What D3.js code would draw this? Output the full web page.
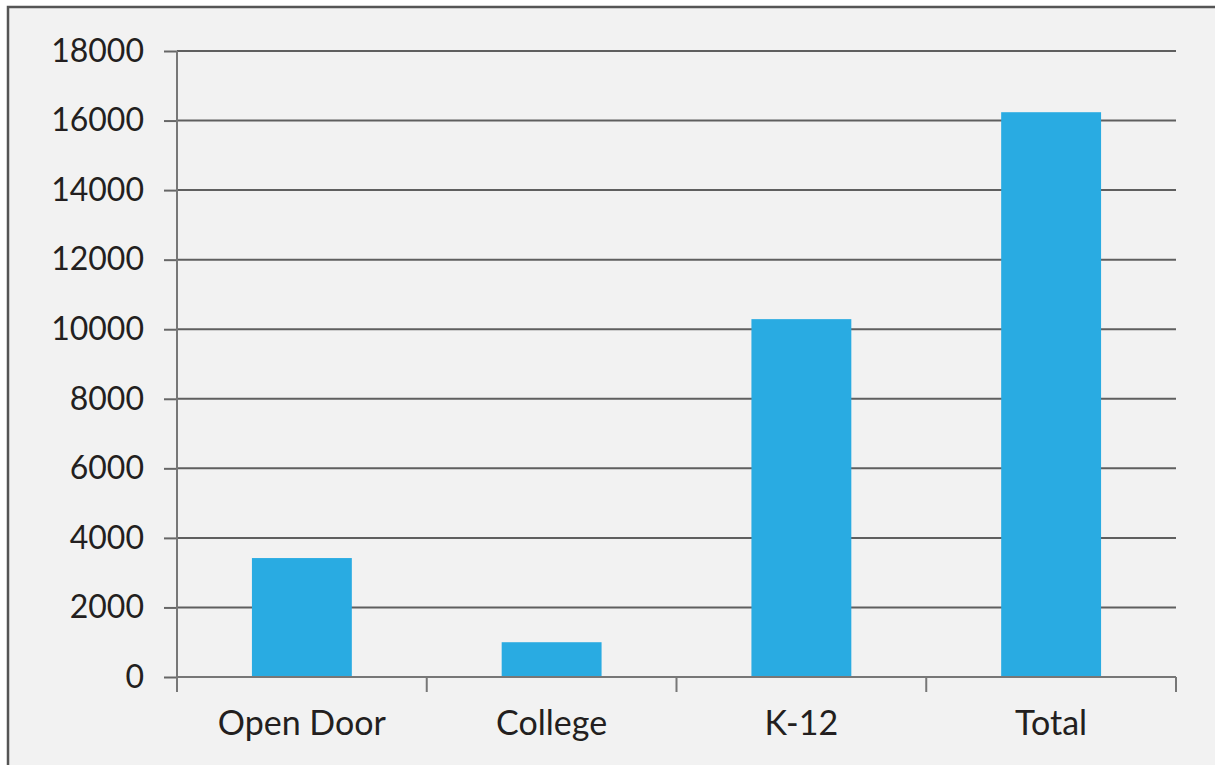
<!DOCTYPE html>
<html>
<head>
<meta charset="utf-8">
<script src="https://cdn.jsdelivr.net/npm/d3@7"></script>
<style>
  html, body { margin: 0; padding: 0; background: #ffffff; }
  svg { display: block; }
</style>
</head>
<body>
<div id="chart"></div>
<script>
// values
let categories = ["Open Door", "College", "K-12", "Total"];
let values = [3420, 1000, 10290, 16240];
let y_ticks = [0, 2000, 4000, 6000, 8000, 10000, 12000, 14000, 16000, 18000];

let width = 1215, height = 765;
let margin = {top: 51, right: 40, bottom: 88, left: 177};

let svg = d3.select("#chart").append("svg")
    .attr("width", width)
    .attr("height", height);

// panel background + frame (left/top edges visible)
svg.append("rect")
    .attr("x", 8).attr("y", 7)
    .attr("width", width).attr("height", height)
    .attr("fill", "#f2f2f2")
    .attr("stroke", "#555")
    .attr("stroke-width", 2.5);

let x = d3.scaleBand()
    .domain(categories)
    .range([margin.left, width - margin.right + 1])
    .paddingInner(0.6)
    .paddingOuter(0.3);

let x_outer = d3.scaleBand()
    .domain(categories)
    .range([margin.left, width - margin.right + 1]);

let y = d3.scaleLinear()
    .domain([0, 18000])
    .range([height - margin.bottom, margin.top]);

let font = "'Lato', 'Open Sans', sans-serif";

// grid lines with little ticks on the left
let y_axis = g => g
    .attr("transform", `translate(${margin.left}, 0)`)
    .call(d3.axisLeft(y).tickValues(y_ticks)
        .tickSize(13)
        .tickPadding(20)
        .tickFormat(d => d))
    .call(g => g.select(".domain").remove())
    .call(g => g.selectAll(".tick line").attr("stroke", "#666").attr("stroke-width", 2))
    .call(g => g.selectAll(".tick text")
        .attr("fill", "#231f20")
        .style("font-family", font)
        .style("font-size", "32px"));

svg.append("g")
    .selectAll("line")
    .data(y_ticks)
    .join("line")
    .attr("x1", margin.left)
    .attr("x2", width - margin.right + 1)
    .attr("y1", d => y(d))
    .attr("y2", d => y(d))
    .attr("stroke", "#5f5f5f")
    .attr("stroke-width", 2);

svg.append("g").call(y_axis);

// vertical axis line, runs a bit below zero
svg.append("line")
    .attr("x1", margin.left).attr("x2", margin.left)
    .attr("y1", y(18000)).attr("y2", y(0) + 15)
    .attr("stroke", "#777")
    .attr("stroke-width", 2);

// bars
svg.append("g")
    .selectAll("rect")
    .data(values)
    .join("rect")
    .attr("x", (d, i) => x(categories[i]))
    .attr("width", x.bandwidth())
    .attr("y", d => y(d))
    .attr("height", d => y(0) - y(d))
    .attr("fill", "#29abe2");

// x axis with boundary ticks
let bounds = categories.map(c => x_outer(c)).concat([x_outer.range()[1]]);
svg.append("line")
    .attr("x1", margin.left).attr("x2", width - margin.right + 1)
    .attr("y1", y(0)).attr("y2", y(0))
    .attr("stroke", "#777")
    .attr("stroke-width", 2);
svg.append("g")
    .selectAll("line")
    .data(bounds)
    .join("line")
    .attr("x1", d => d).attr("x2", d => d)
    .attr("y1", y(0)).attr("y2", y(0) + 15)
    .attr("stroke", "#777")
    .attr("stroke-width", 2);

svg.append("g")
    .selectAll("text")
    .data(categories)
    .join("text")
    .attr("x", d => x_outer(d) + x_outer.bandwidth() / 2)
    .attr("y", y(0) + 58)
    .attr("text-anchor", "middle")
    .attr("fill", "#231f20")
    .style("font-family", font)
    .style("font-size", "34px")
    .text(d => d);
</script>
</body>
</html>
